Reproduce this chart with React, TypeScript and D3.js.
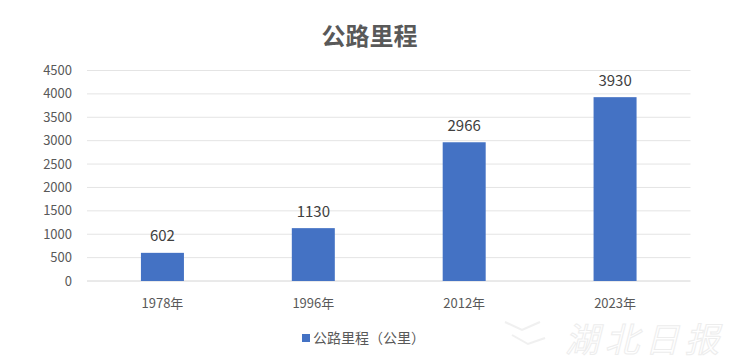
import React from "react";
import * as d3 from "d3";

const categories = ["1978年", "1996年", "2012年", "2023年"];
const values = [602, 1130, 2966, 3930];
const yTicks = [0, 500, 1000, 1500, 2000, 2500, 3000, 3500, 4000, 4500];
const title = "公路里程";
const seriesName = "公路里程（公里）";

const W = 732;
const H = 363;
const FONT = "'Noto Sans CJK SC', 'Noto Sans', sans-serif";

export default function App() {
  const x = d3
    .scaleBand<string>()
    .domain(categories)
    .range([87, 690.5])
    .paddingInner(0.715)
    .paddingOuter(0.3575);
  const y = d3.scaleLinear().domain([0, 4500]).range([281, 70.5]);

  return (
    <svg
      width={W}
      height={H}
      style={{ position: "absolute", left: 0, top: 0, background: "#fff" }}
      fontFamily={FONT}
    >
      <text x={369.5} y={45} textAnchor="middle" fontSize={24} fontWeight="bold" fill="#595959">
        {title}
      </text>

      {yTicks.map((t) => (
        <g key={t}>
          <line
            x1={87}
            x2={690.5}
            y1={y(t)}
            y2={y(t)}
            stroke={t === 0 ? "#d4d4d4" : "#e4e4e4"}
            strokeWidth={1}
          />
          <text x={72} y={y(t)} dy="0.35em" textAnchor="end" fontSize={13} fill="#595959">
            {t}
          </text>
        </g>
      ))}

      {categories.map((c, i) => {
        const v = values[i];
        const bx = x(c)!;
        const cx = bx + x.bandwidth() / 2;
        return (
          <g key={c}>
            <rect x={bx} y={y(v)} width={x.bandwidth()} height={y(0) - y(v)} fill="#4472c4" />
            <text x={cx} y={y(v) - 11.5} textAnchor="middle" fontSize={15} fill="#404040">
              {v}
            </text>
            <text x={cx} y={303} dy="0.35em" textAnchor="middle" fontSize={13} fill="#595959">
              {c}
            </text>
          </g>
        );
      })}

      <rect x={302} y={334} width={8} height={8} fill="#4472c4" />
      <text x={313} y={338} dy="0.35em" fontSize={14} fill="#595959">
        {seriesName}
      </text>

      <g opacity={0.5}>
        <path
          d="M505,322 L522,330 L540,322 M512,335 L528,344 L545,338"
          fill="none"
          stroke="#e2e2e2"
          strokeWidth={2}
        />
        <text
          x={565}
          y={340}
          dy="0.35em"
          fontSize={34}
          fill="none"
          stroke="#dcdcdc"
          strokeWidth={1}
          letterSpacing={6}
          fontStyle="italic"
        >
          湖北日报
        </text>
      </g>
    </svg>
  );
}
